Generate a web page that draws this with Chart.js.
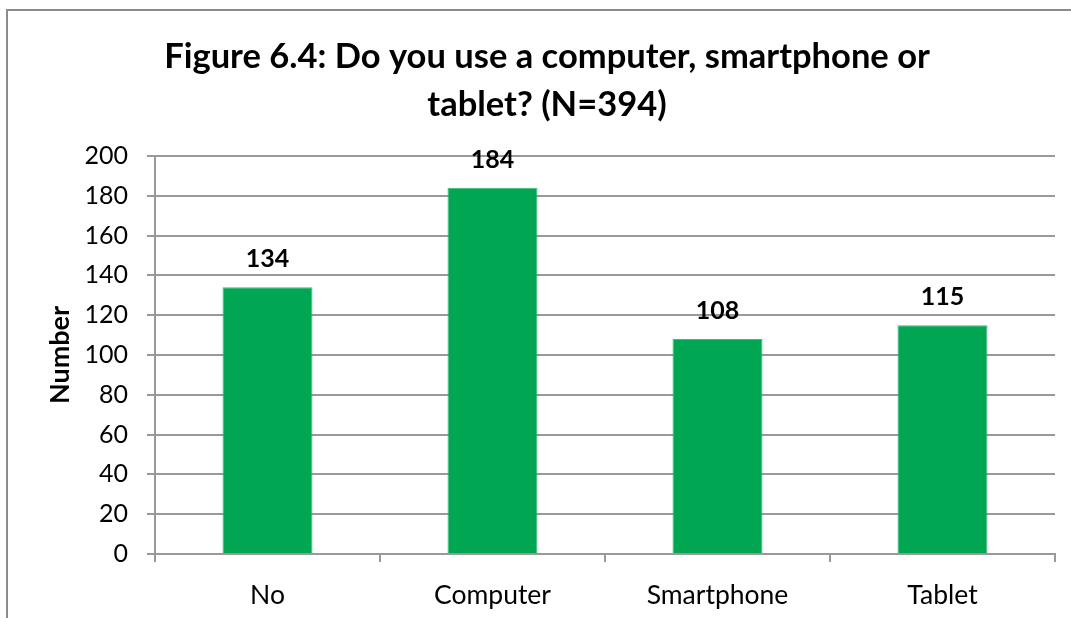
<!DOCTYPE html>
<html>
<head>
<meta charset="utf-8">
<script src="https://cdn.jsdelivr.net/npm/chart.js@4/dist/chart.umd.min.js"></script>
<style>
    html, body { margin: 0; padding: 0; background: #fff; overflow: hidden; }
    #frame {
        position: absolute; left: 6px; top: 9px;
        width: 1200px; height: 800px;
        border: 2px solid #8c8c8c; background: #fff;
    }
    #wrap { position: absolute; left: 0; top: 0; width: 1071px; height: 618px; }
</style>
</head>
<body>
<div id="frame"></div>
<div id="wrap"><canvas id="usageChart" width="1071" height="618"></canvas></div>
<script>
const categories = ['No', 'Computer', 'Smartphone', 'Tablet'];
const counts = [134, 184, 108, 115];
const yTicks = [0, 20, 40, 60, 80, 100, 120, 140, 160, 180, 200];
const titleLines = ['Figure 6.4: Do you use a computer, smartphone or', 'tablet? (N=394)'];

const FONT = 'Lato, "Noto Sans", sans-serif';
const GRID = '#999999';

// Value labels drawn above each bar
const barValues = {
    id: 'barValues',
    afterDatasetsDraw(chart) {
        const ctx = chart.ctx;
        const meta = chart.getDatasetMeta(0);
        ctx.save();
        ctx.font = 'bold 25px ' + FONT;
        ctx.fillStyle = '#000';
        ctx.textAlign = 'center';
        ctx.textBaseline = 'alphabetic';
        meta.data.forEach((bar, i) => {
            ctx.fillText(String(counts[i]), bar.x, bar.y - 20);
        });
        ctx.restore();
    }
};

function drawChart() {
    const ctx = document.getElementById('usageChart').getContext('2d');
    new Chart(ctx, {
        type: 'bar',
        data: {
            labels: categories,
            datasets: [{
                data: counts,
                backgroundColor: '#00a651',
                borderColor: '#3dbb78',
                borderWidth: 1,
                categoryPercentage: 1,
                barPercentage: 0.4
            }]
        },
        options: {
            responsive: false,
            animation: false,
            events: [],
            layout: { padding: { left: 39, right: 16, top: 0, bottom: 0 } },
            plugins: {
                legend: { display: false },
                tooltip: { enabled: false },
                title: {
                    display: true,
                    text: titleLines,
                    color: '#000',
                    font: { family: FONT, size: 34.5, weight: 'bold', lineHeight: 48 / 34.5 },
                    padding: { top: 32.5, bottom: 27.5 }
                }
            },
            scales: {
                x: {
                    afterFit: (scale) => { scale.height = 64; },
                    grid: {
                        offset: true,
                        drawOnChartArea: false,
                        drawTicks: true,
                        tickLength: 8,
                        color: GRID,
                        lineWidth: 2
                    },
                    border: { display: true, color: GRID, width: 2 },
                    ticks: {
                        color: '#000',
                        padding: 18,
                        font: { family: FONT, size: 26.5 }
                    }
                },
                y: {
                    min: 0,
                    max: 200,
                    afterFit: (scale) => { scale.width = 116; },
                    afterBuildTicks: (scale) => { scale.ticks = yTicks.map(v => ({ value: v })); },
                    grid: {
                        color: GRID,
                        lineWidth: 2,
                        drawTicks: true,
                        tickLength: 8
                    },
                    border: { display: true, color: GRID, width: 2 },
                    ticks: {
                        color: '#000',
                        padding: 19,
                        font: { family: FONT, size: 25 }
                    },
                    title: {
                        display: true,
                        text: 'Number',
                        color: '#000',
                        padding: { top: 5, bottom: 0 },
                        font: { family: FONT, size: 27, weight: 'bold' }
                    }
                }
            }
        },
        plugins: [barValues]
    });
}

document.fonts.load('25px Lato').then(drawChart, drawChart);
</script>
</body>
</html>
